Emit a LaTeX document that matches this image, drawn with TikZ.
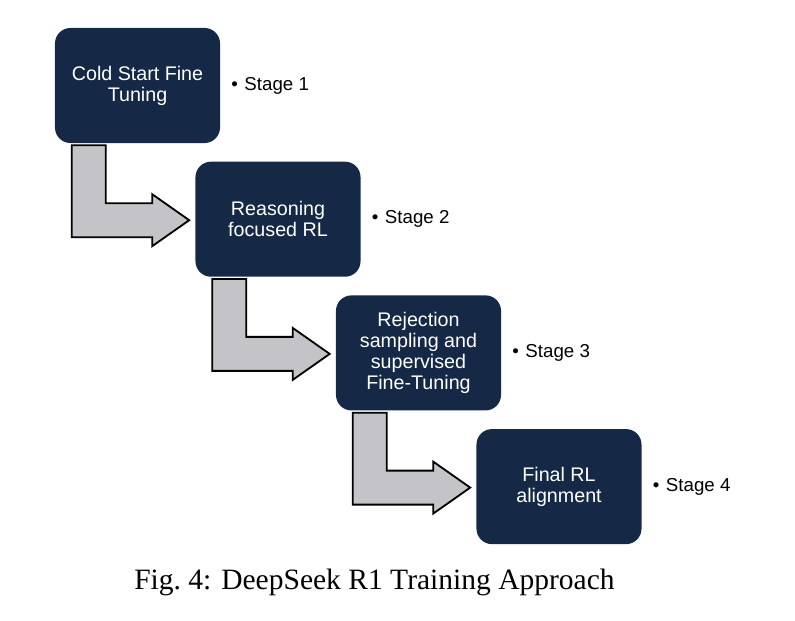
\documentclass[tikz,border=0pt]{standalone}
\usepackage{fontspec}
\setmainfont{Liberation Sans}
\newfontfamily\capfont{Liberation Serif}
\usetikzlibrary{positioning,calc}
\definecolor{navy}{RGB}{21,40,70}
\definecolor{arrowgray}{RGB}{196,196,200}

\begin{document}
\begin{tikzpicture}[x=0.025cm,y=-0.025cm]
 	\useasboundingbox (0,0) rectangle (795,620);
 	\def \colx{137.5}
 	\def \stepx{140.5}
 	\def \rowone{85.5}
 	\def \stepy{133.7}

 	\tikzstyle{s-node}=[rectangle,rounded corners=11pt,fill=navy,text=white,minimum width=4.125cm,minimum height=2.875cm,align=center,font=\fontsize{14}{14.8}\selectfont]
 	\tikzstyle{stage}=[inner sep=0pt,anchor=west,font=\fontsize{13.3}{15}\selectfont]
 	\tikzstyle{bent}=[fill=arrowgray,draw=black,line width=1.3pt,line join=miter]
 	% boxes
 	\node[s-node] (cold)   at (\colx,\rowone)                     {Cold Start Fine\\Tuning};
 	\node[s-node] (reason) at (\colx+\stepx,\rowone+\stepy)       {Reasoning\\focused RL};
 	\node[s-node] (reject) at (\colx+2*\stepx,\rowone+2*\stepy)   {Rejection\\sampling and\\supervised\\Fine-Tuning};
 	\node[s-node] (final)  at (\colx+3*\stepx,\rowone+3*\stepy)   {Final RL\\alignment};

 	% labels
 	\node[stage, right=0.27cm of cold]   (st1) {\textbullet\hspace{0.35em}Stage 1};
 	\node[stage, right=0.27cm of reason] (st2) {\textbullet\hspace{0.35em}Stage 2};
 	\node[stage, right=0.27cm of reject] (st3) {\textbullet\hspace{0.35em}Stage 3};
 	\node[stage, right=0.27cm of final]  (st4) {\textbullet\hspace{0.35em}Stage 4};

 	% bent arrows
 	\foreach \a/\b in {cold/reason,reason/reject,reject/final}{
 		\coordinate (top) at ($(\a.south west)+(17,2)$);
 		\coordinate (tip) at ($(\b.west)+(-6,1)$);
 		\draw[bent] (top) -- ++(34,0) |- ($(tip)+(-37,-17)$) -- ++(0,-9)
 			-- (tip) -- ++(-37,26) -- ++(0,-9) -| (top) -- cycle;
 	}

 	\node[font=\capfont\fontsize{21}{24}\selectfont, inner sep=0pt] (caption) at (374.5,582) {Fig.\ 4: DeepSeek R1 Training Approach};
\end{tikzpicture}
\end{document}
